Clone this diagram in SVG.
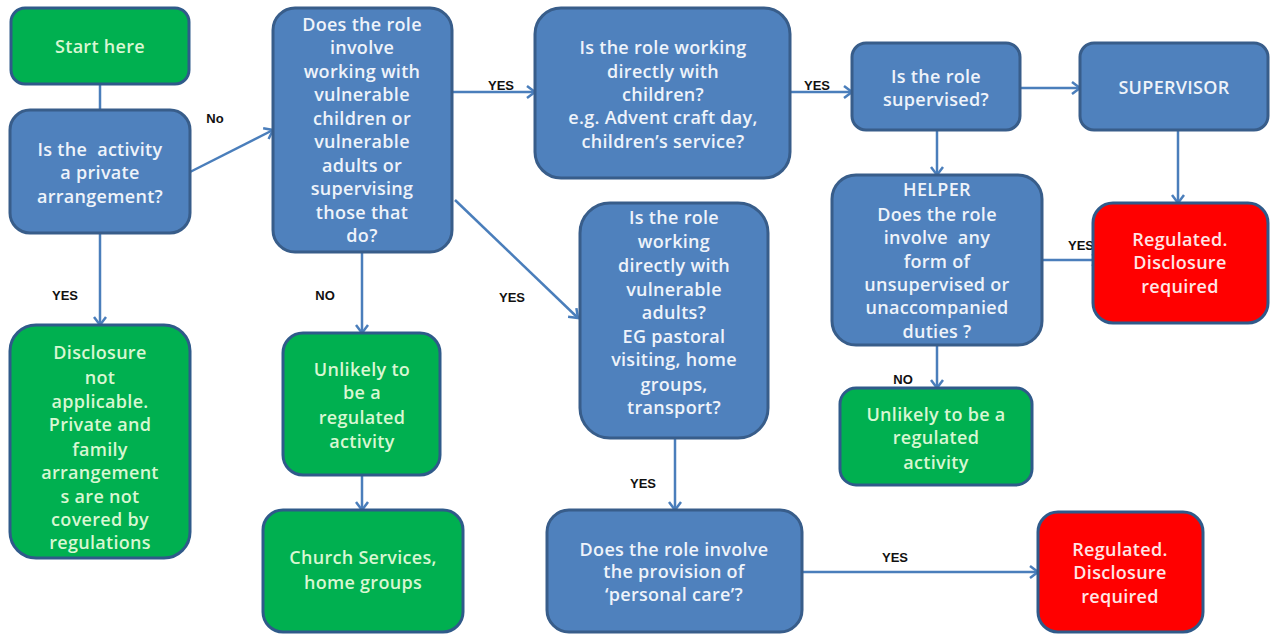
<svg xmlns="http://www.w3.org/2000/svg" width="1271" height="634" viewBox="0 0 1271 634">
<style>
.b{fill:#4f81bd;stroke:#385d8a;stroke-width:3}
.g{fill:#00b050;stroke:#2f5a8a;stroke-width:3}
.r{fill:#ff0000;stroke:#2f5a8a;stroke-width:3}
text{font-family:"Open Sans","Liberation Sans",sans-serif;font-size:18px;font-weight:600;letter-spacing:0.3px;text-anchor:middle;white-space:pre}
.tb{fill:#eef3fa}
.tg{fill:#d8f7d2}
.tr{fill:#ffe6e6}
.c line{stroke:#4a7ebb;stroke-width:2.5;fill:none}
.lbl{font-family:"Liberation Sans",Arial,sans-serif;font-weight:bold;font-size:13px;letter-spacing:0;fill:#111}
</style>
<defs>
<marker id="ah" markerUnits="userSpaceOnUse" markerWidth="16" markerHeight="16" refX="12" refY="8" orient="auto">
<path d="M4,2 L12,8 L4,14" fill="none" stroke="#4a7ebb" stroke-width="2.5"/>
</marker>
</defs>
<rect width="1271" height="634" fill="#ffffff"/>
<g class="c" id="connectors">
<line x1="100" y1="84" x2="100" y2="110"/>
<line x1="190" y1="172" x2="273" y2="130" marker-end="url(#ah)"/>
<line x1="100" y1="233" x2="100" y2="325" marker-end="url(#ah)"/>
<line x1="452" y1="92" x2="535" y2="92" marker-end="url(#ah)"/>
<line x1="362" y1="252" x2="362" y2="333" marker-end="url(#ah)"/>
<line x1="455" y1="200" x2="578" y2="318" marker-end="url(#ah)"/>
<line x1="790" y1="92" x2="852" y2="92" marker-end="url(#ah)"/>
<line x1="1020" y1="88" x2="1080" y2="88" marker-end="url(#ah)"/>
<line x1="937" y1="130" x2="937" y2="175" marker-end="url(#ah)"/>
<line x1="1178" y1="130" x2="1178" y2="203" marker-end="url(#ah)"/>
<line x1="1042" y1="260" x2="1100" y2="260" marker-end="url(#ah)"/>
<line x1="937" y1="345" x2="937" y2="388" marker-end="url(#ah)"/>
<line x1="675" y1="438" x2="675" y2="510" marker-end="url(#ah)"/>
<line x1="802" y1="572" x2="1038" y2="572" marker-end="url(#ah)"/>
<line x1="362" y1="475" x2="362" y2="510" marker-end="url(#ah)"/>
</g>
<g id="labels">
<text class="lbl" x="215" y="123">No</text>
<text class="lbl" x="65" y="300">YES</text>
<text class="lbl" x="325" y="300">NO</text>
<text class="lbl" x="501" y="90">YES</text>
<text class="lbl" x="817" y="90">YES</text>
<text class="lbl" x="1081" y="250">YES</text>
<text class="lbl" x="903" y="384">NO</text>
<text class="lbl" x="895" y="562">YES</text>
<text class="lbl" x="512" y="302">YES</text>
<text class="lbl" x="643" y="488">YES</text>
</g>
<g id="start">
<rect class="g" x="11" y="8" width="178" height="76" rx="14"/>
<text class="tg" x="100" y="53">Start here</text>
</g>
<g id="private">
<rect class="b" x="10" y="110" width="180" height="123" rx="20"/>
<text class="tb" x="100" y="156">Is the  activity</text>
<text class="tb" x="100" y="179">a private</text>
<text class="tb" x="100" y="203">arrangement?</text>
</g>
<g id="involve">
<rect class="b" x="273" y="8" width="179" height="244" rx="22"/>
<text class="tb" x="362" y="31">Does the role</text>
<text class="tb" x="362" y="54">involve</text>
<text class="tb" x="362" y="78">working with</text>
<text class="tb" x="362" y="101">vulnerable</text>
<text class="tb" x="362" y="125">children or</text>
<text class="tb" x="362" y="148">vulnerable</text>
<text class="tb" x="362" y="172">adults or</text>
<text class="tb" x="362" y="195">supervising</text>
<text class="tb" x="362" y="219">those that</text>
<text class="tb" x="362" y="242">do?</text>
</g>
<g id="children">
<rect class="b" x="535" y="8" width="255" height="170" rx="26"/>
<text class="tb" x="663" y="54">Is the role working</text>
<text class="tb" x="663" y="78">directly with</text>
<text class="tb" x="663" y="101">children?</text>
<text class="tb" x="663" y="124">e.g. Advent craft day,</text>
<text class="tb" x="663" y="148">children’s service?</text>
</g>
<g id="supervised">
<rect class="b" x="852" y="43" width="168" height="87" rx="14"/>
<text class="tb" x="936" y="83">Is the role</text>
<text class="tb" x="936" y="106">supervised?</text>
</g>
<g id="supervisor">
<rect class="b" x="1080" y="43" width="188" height="87" rx="14"/>
<text class="tb" x="1174" y="94">SUPERVISOR</text>
</g>
<g id="helper">
<rect class="b" x="832" y="175" width="210" height="170" rx="24"/>
<text class="tb" x="937" y="196">HELPER</text>
<text class="tb" x="937" y="221">Does the role</text>
<text class="tb" x="937" y="244">involve  any</text>
<text class="tb" x="937" y="268">form of</text>
<text class="tb" x="937" y="291">unsupervised or</text>
<text class="tb" x="937" y="314">unaccompanied</text>
<text class="tb" x="937" y="338">duties ?</text>
</g>
<g id="regulated1">
<rect class="r" x="1093" y="203" width="175" height="120" rx="20"/>
<text class="tr" x="1180" y="246">Regulated.</text>
<text class="tr" x="1180" y="269">Disclosure</text>
<text class="tr" x="1180" y="293">required</text>
</g>
<g id="notapplicable">
<rect class="g" x="10" y="325" width="180" height="233" rx="26"/>
<text class="tg" x="100" y="359">Disclosure</text>
<text class="tg" x="100" y="384">not</text>
<text class="tg" x="100" y="408">applicable.</text>
<text class="tg" x="100" y="431">Private and</text>
<text class="tg" x="100" y="456">family</text>
<text class="tg" x="100" y="479">arrangement</text>
<text class="tg" x="100" y="503">s are not</text>
<text class="tg" x="100" y="526">covered by</text>
<text class="tg" x="100" y="549">regulations</text>
</g>
<g id="unlikely1">
<rect class="g" x="283" y="333" width="157" height="142" rx="20"/>
<text class="tg" x="362" y="376">Unlikely to</text>
<text class="tg" x="362" y="399">be a</text>
<text class="tg" x="362" y="424">regulated</text>
<text class="tg" x="362" y="448">activity</text>
</g>
<g id="church">
<rect class="g" x="263" y="510" width="200" height="122" rx="20"/>
<text class="tg" x="363" y="564">Church Services,</text>
<text class="tg" x="363" y="589">home groups</text>
</g>
<g id="adults">
<rect class="b" x="580" y="203" width="188" height="235" rx="30"/>
<text class="tb" x="674" y="224">Is the role</text>
<text class="tb" x="674" y="248">working</text>
<text class="tb" x="674" y="272">directly with</text>
<text class="tb" x="674" y="296">vulnerable</text>
<text class="tb" x="674" y="319">adults?</text>
<text class="tb" x="674" y="343">EG pastoral</text>
<text class="tb" x="674" y="366">visiting, home</text>
<text class="tb" x="674" y="391">groups,</text>
<text class="tb" x="674" y="414">transport?</text>
</g>
<g id="personalcare">
<rect class="b" x="547" y="510" width="255" height="122" rx="22"/>
<text class="tb" x="674" y="556">Does the role involve</text>
<text class="tb" x="674" y="578">the provision of</text>
<text class="tb" x="674" y="601">‘personal care’?</text>
</g>
<g id="unlikely2">
<rect class="g" x="840" y="388" width="192" height="97" rx="16"/>
<text class="tg" x="936" y="421">Unlikely to be a</text>
<text class="tg" x="936" y="444">regulated</text>
<text class="tg" x="936" y="469">activity</text>
</g>
<g id="regulated2">
<rect class="r" x="1038" y="512" width="165" height="120" rx="20"/>
<text class="tr" x="1120" y="556">Regulated.</text>
<text class="tr" x="1120" y="579">Disclosure</text>
<text class="tr" x="1120" y="603">required</text>
</g>
</svg>
